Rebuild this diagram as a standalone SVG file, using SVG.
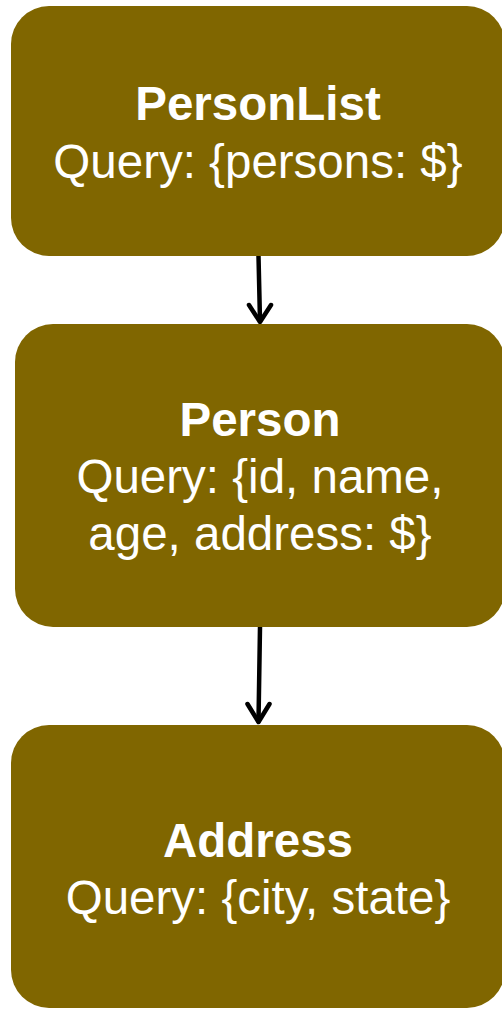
<svg xmlns="http://www.w3.org/2000/svg" width="502" height="1010" viewBox="0 0 502 1010">
  <style>
    .box { fill: #806600; }
    .title { font-family: "Liberation Sans", Arial, sans-serif; font-size: 47.5px; font-weight: bold; fill: #ffffff; text-anchor: middle; }
    .body { font-family: "Liberation Sans", Arial, sans-serif; font-size: 47.5px; fill: #ffffff; text-anchor: middle; }
    .edge { fill: none; stroke: #000000; stroke-width: 4.5; stroke-linecap: round; stroke-linejoin: round; }
  </style>
  <rect width="502" height="1010" fill="#ffffff"/>

  <g id="connectors">
    <path class="edge" d="M258.5,256 L260,321"/>
    <path class="edge" d="M249,305 L260,322 L271,305"/>
    <path class="edge" d="M260,627 L258.5,721"/>
    <path class="edge" d="M247.5,704 L258.5,722 L269.5,704"/>
  </g>

  <g id="node-personlist">
    <rect class="box" x="11" y="6" width="494" height="250" rx="38" ry="38"/>
    <text class="title" x="258" y="120">PersonList</text>
    <text class="body" x="258" y="178">Query: {persons: $}</text>
  </g>

  <g id="node-person">
    <rect class="box" x="15" y="324" width="490" height="303" rx="38" ry="38"/>
    <text class="title" x="260" y="436">Person</text>
    <text class="body" x="260" y="493">Query: {id, name,</text>
    <text class="body" x="260" y="550">age, address: $}</text>
  </g>

  <g id="node-address">
    <rect class="box" x="11" y="725" width="494" height="283" rx="38" ry="38"/>
    <text class="title" x="258" y="857">Address</text>
    <text class="body" x="258" y="914">Query: {city, state}</text>
  </g>
</svg>
